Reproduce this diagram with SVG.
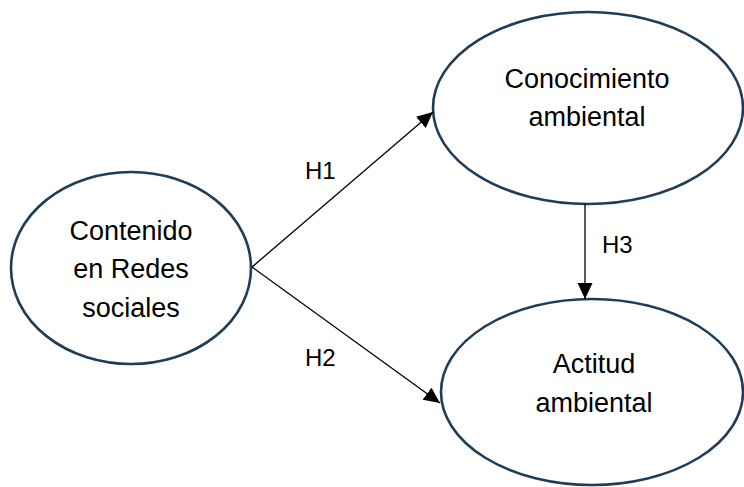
<svg xmlns="http://www.w3.org/2000/svg" width="744" height="487" viewBox="0 0 744 487">
<style>
.node ellipse{fill:#fff;stroke:#1f3d57;stroke-width:2.6}
.lbl{font-family:"Liberation Sans",Arial,sans-serif;font-size:27px;fill:#000;text-anchor:middle}
.edge{font-family:"Liberation Sans",Arial,sans-serif;font-size:24px;fill:#000}
.conn line{stroke:#000;stroke-width:1.3}
</style>
<defs>
<marker id="arr" markerUnits="userSpaceOnUse" markerWidth="17" markerHeight="16" refX="16" refY="7.5" orient="auto">
<path d="M0,0 L16,7.5 L0,15 z" fill="#000"/>
</marker>
</defs>
<rect width="744" height="487" fill="#fff"/>
<g id="n1" class="node">
<ellipse cx="131" cy="268" rx="120" ry="96"/>
<text class="lbl" x="131" y="240">Contenido</text>
<text class="lbl" x="131" y="278">en Redes</text>
<text class="lbl" x="131" y="317">sociales</text>
</g>
<g id="n2" class="node">
<ellipse cx="588" cy="108" rx="155" ry="96"/>
<text class="lbl" x="587" y="88">Conocimiento</text>
<text class="lbl" x="587" y="126">ambiental</text>
</g>
<g id="n3" class="node">
<ellipse cx="592" cy="392" rx="151" ry="93"/>
<text class="lbl" x="594" y="373">Actitud</text>
<text class="lbl" x="594" y="412">ambiental</text>
</g>
<g id="connectors" class="conn">
<line x1="252" y1="267" x2="433" y2="112" marker-end="url(#arr)"/>
<line x1="252" y1="267" x2="440" y2="403" marker-end="url(#arr)"/>
<line x1="585" y1="204" x2="585" y2="299" marker-end="url(#arr)"/>
<text class="edge" x="305" y="179">H1</text>
<text class="edge" x="305" y="366">H2</text>
<text class="edge" x="602" y="253">H3</text>
</g>
</svg>
